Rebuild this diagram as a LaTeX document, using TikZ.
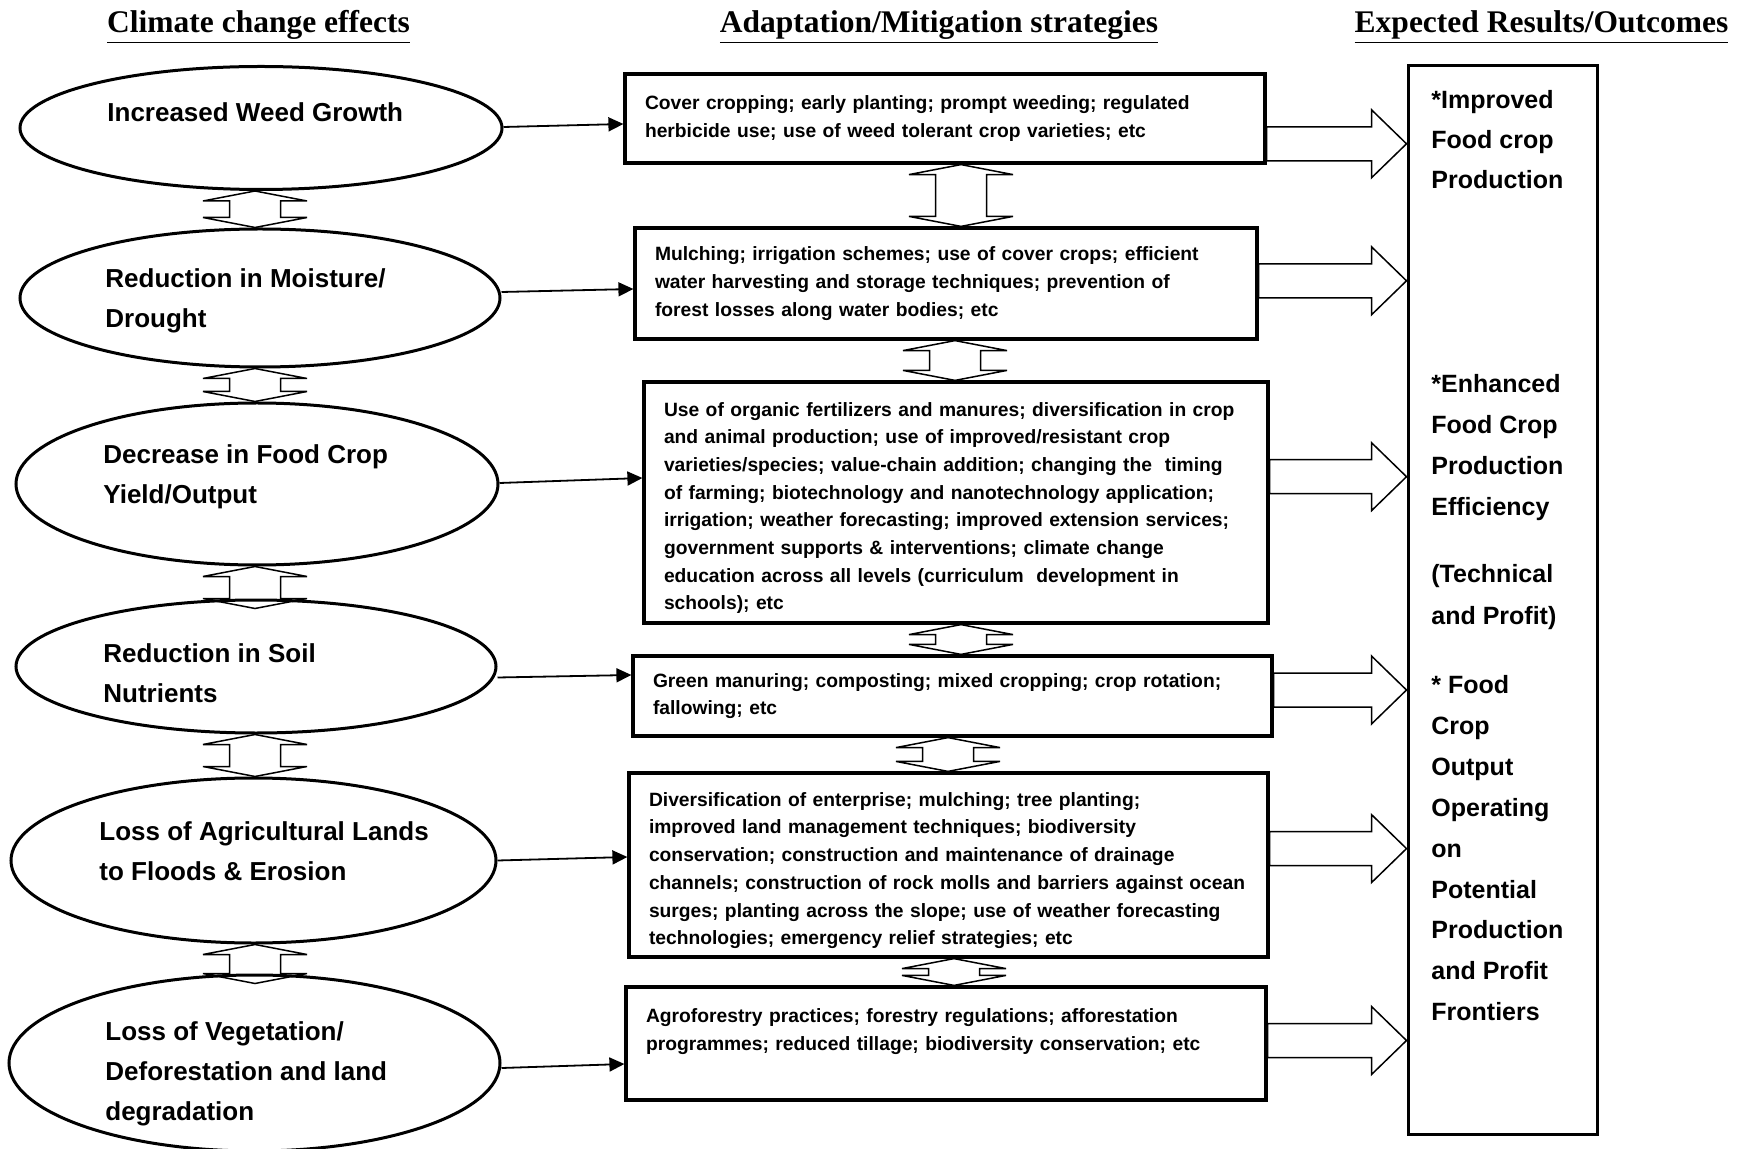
\documentclass[tikz,border=0pt]{standalone}
\usepackage{fontspec}
\setmainfont{Liberation Serif}
\setsansfont{Liberation Sans}
\usetikzlibrary{arrows.meta,shapes.geometric,calc}

% hollow two-way arrow at x=#2 (px) from #3.south to #4.north, lower tip pushed #1 px further
\newcommand\twoway[4][0]{%
  \draw[hollow] let \p1=(#3.south), \p2=(#4.north), \n1={#2*0.5pt}, \n2={#1*0.5pt} in
    (\n1-12.75pt,\y1-5pt) -- (\n1-26pt,\y1-5pt) -- (\n1,\y1) -- (\n1+26pt,\y1-5pt)
    -- (\n1+12.75pt,\y1-5pt) -- (\n1+12.75pt,\y2-\n2+5pt) -- (\n1+26pt,\y2-\n2+5pt)
    -- (\n1,\y2-\n2) -- (\n1-26pt,\y2-\n2+5pt) -- (\n1-12.75pt,\y2-\n2+5pt) -- cycle;}

% block arrow from box #1 to the outcome box, tip at y=#2 (px)
\newcommand\toout[2]{%
  \draw[hollow] let \p1=(#1.east), \p2=(outc.west), \n1={-#2*0.5pt} in
    (\x1,\n1+8.5pt) -- (\x2-17.5pt,\n1+8.5pt) -- (\x2-17.5pt,\n1+17pt) -- (\x2,\n1)
    -- (\x2-17.5pt,\n1-17pt) -- (\x2-17.5pt,\n1-8.5pt) -- (\x1,\n1-8.5pt) -- cycle;}

\begin{document}
\begin{tikzpicture}[
    x=0.5pt, y=-0.5pt,
    >={Triangle[length=7.5pt,width=7pt]},
    colhead/.style={anchor=base, font=\rmfamily\bfseries\fontsize{15.75pt}{18pt}\selectfont},
    effect/.style={ellipse, draw, line width=1.5pt, inner sep=0pt},
    efftext/.style={anchor=north west, inner sep=0pt, align=left,
        font=\sffamily\bfseries\fontsize{13pt}{20pt}\selectfont},
    strat/.style={rectangle, draw, line width=1.6pt, align=left, inner xsep=10pt,
        inner ysep=2pt, font=\sffamily\bfseries\fontsize{9.63pt}{13.85pt}\selectfont},
    restext/.style={anchor=north west, inner sep=0pt, align=left,
        font=\sffamily\bfseries\fontsize{12.5pt}{#1}\selectfont},
    arrow/.style={->, line width=0.9pt},
    hollow/.style={draw, line width=0.75pt},
]
\useasboundingbox (0,0) rectangle (1750,1149);

% === Column titles ===
\node[colhead] (hclim) at (258.5,33) {\underline{Climate change effects}};
\node[colhead] (hstrat) at (939,33) {\underline{Adaptation/Mitigation strategies}};
\node[colhead] (hres) at (1541.5,33) {\underline{Expected Results/Outcomes}};

% === Climate change effects ===
\node[effect, minimum width=241pt, minimum height=61.5pt] (weed) at (261,128) {};
\node[effect, minimum width=240pt, minimum height=69pt] (moist) at (260,298) {};
\node[effect, minimum width=241pt, minimum height=81pt] (yield) at (257,484) {};
\node[effect, minimum width=240pt, minimum height=66.5pt] (soil) at (256,666.5) {};
\node[effect, minimum width=242.5pt, minimum height=82.5pt] (flood) at (253.5,860.5) {};
\node[effect, minimum width=245.5pt, minimum height=88pt] (veg) at (254.5,1063) {};

\node[efftext] (weedtxt) at (107,102) {Increased Weed Growth};
\node[efftext] (moisttxt) at (105,268) {Reduction in Moisture/\\Drought};
\node[efftext] (yieldtxt) at (103,444) {Decrease in Food Crop\\Yield/Output};
\node[efftext] (soiltxt) at (103,643) {Reduction in Soil\\Nutrients};
\node[efftext] (floodtxt) at (99,821) {Loss of Agricultural Lands\\to Floods \& Erosion};
\node[efftext] (vegtxt) at (105,1021) {Loss of Vegetation/\\Deforestation and land\\degradation};

% === Adaptation/Mitigation strategies ===
\node[strat, minimum width=320pt, minimum height=44.5pt, text width=300pt] (cover) at (945,118.5) {
    Cover cropping; early planting; prompt weeding; regulated\\
    herbicide use; use of weed tolerant crop varieties; etc};
\node[strat, minimum width=311pt, minimum height=55.5pt, text width=291pt] (mulch) at (946,283.5) {
    Mulching; irrigation schemes; use of cover crops; efficient\\
    water harvesting and storage techniques; prevention of\\
    forest losses along water bodies; etc};
\node[strat, minimum width=312pt, minimum height=120.5pt, text width=292pt] (organic) at (956,502.5) {
    \rule{0pt}{12.5pt}Use of organic fertilizers and manures; diversification in crop\\
    and animal production; use of improved/resistant crop\\
    varieties/species; value-chain addition; changing the\ \ timing\\
    of farming; biotechnology and nanotechnology application;\\
    irrigation; weather forecasting; improved extension services;\\
    government supports \& interventions; climate change\\
    education across all levels (curriculum\ \ development in\\
    schools); etc};
\node[strat, minimum width=319.5pt, minimum height=40pt, text width=299.5pt] (manure) at (952.5,696) {
    Green manuring; composting; mixed cropping; crop rotation;\\
    fallowing; etc};
\node[strat, minimum width=319.5pt, minimum height=92pt, text width=299.5pt] (divers) at (948.5,865) {
    \rule{0pt}{12.5pt}Diversification of enterprise; mulching; tree planting;\\
    improved land management techniques; biodiversity\\
    conservation; construction and maintenance of drainage\\
    channels; construction of rock molls and barriers against ocean\\
    surges; planting across the slope; use of weather forecasting\\
    technologies; emergency relief strategies; etc};
\node[strat, minimum width=320pt, minimum height=56.5pt, text width=300pt] (agro) at (946,1043.5) {
    Agroforestry practices; forestry regulations; afforestation\\
    programmes; reduced tillage; biodiversity conservation; etc\\ \mbox{}};

% === Expected results ===
\node[draw, line width=1.5pt, minimum width=94.5pt, minimum height=534pt] (outc) at (1502.5,600) {};
\node[restext=20.1pt] (impr) at (1431,89.5) {*Improved\\Food crop\\Production};
\node[restext=20.5pt] (enh) at (1431,374) {*Enhanced\\Food Crop\\Production\\Efficiency};
\node[restext=21pt] (tech) at (1431,564) {(Technical\\and Profit)};
\node[restext=20.45pt] (front) at (1431,675) {* Food\\Crop\\Output\\Operating\\on\\Potential\\Production\\and Profit\\Frontiers};

% === Effects to strategies ===
\draw[arrow] ($(weed.east)+(0,-1)$) -- ($(cover.west)+(0,5.5)$);
\draw[arrow] ($(moist.east)+(0,-6)$) -- ($(mulch.west)+(0,5.5)$);
\draw[arrow] ($(yield.east)+(0,-1)$) -- ($(organic.west)+(0,-24.5)$);
\draw[arrow] ($(soil.east)+(0,11)$) -- ($(manure.west)+(0,-21)$);
\draw[arrow] (flood.east) -- ($(divers.west)+(0,-8)$);
\draw[arrow] ($(veg.east)+(0,5)$) -- ($(agro.west)+(0,20.5)$);

% === Two-way links ===
\twoway{255}{weed}{moist}
\twoway{255}{moist}{yield}
\twoway[10]{255}{yield}{soil}
\twoway{255}{soil}{flood}
\twoway[10]{255}{flood}{veg}
\twoway{961}{cover}{mulch}
\twoway{955}{mulch}{organic}
\twoway{961}{organic}{manure}
\twoway{948}{manure}{divers}
\twoway{954}{divers}{agro}

% === Strategies to results ===
\toout{cover}{143.8}
\toout{mulch}{280.8}
\toout{organic}{476.7}
\toout{manure}{690}
\toout{divers}{848.6}
\toout{agro}{1040.5}

\end{tikzpicture}
\end{document}
